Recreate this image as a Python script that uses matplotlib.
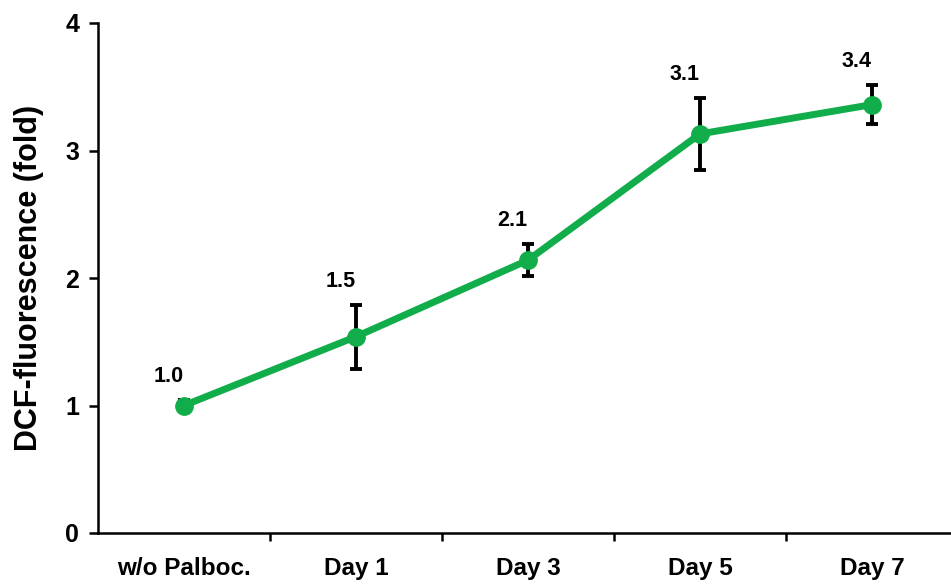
import matplotlib
matplotlib.use("Agg")
import matplotlib.pyplot as plt
from matplotlib.ticker import FixedLocator, NullFormatter

# Data
categories = ["w/o Palboc.", "Day 1", "Day 3", "Day 5", "Day 7"]
fold_change = [1.0, 1.54, 2.14, 3.13, 3.36]
fold_error = [0.04, 0.25, 0.125, 0.28, 0.155]
y_ticks = [0, 1, 2, 3, 4]

plt.rcParams["font.family"] = ["Liberation Sans", "DejaVu Sans"]
plt.rcParams["font.weight"] = "bold"

W, H = 951, 584
fig = plt.figure(figsize=(W / 100, H / 100), dpi=100)
ax = fig.add_axes([98 / W, 51 / H, 860 / W, 510 / H])

x = list(range(len(categories)))
green = "#12AD4B"

ax.errorbar(x, fold_change, yerr=fold_error, fmt="none", ecolor="black",
            elinewidth=2.8, capsize=4.5, capthick=2.8, zorder=2)
ax.plot(x, fold_change, color=green, linewidth=5, marker="o",
        markersize=12.5, markerfacecolor=green, markeredgecolor=green, zorder=3)

for xi, v, e in zip(x, fold_change, fold_error):
    ax.annotate(f"{v:.1f}", xy=(xi, v + e), xytext=(-11, 17),
                textcoords="offset points", ha="center", va="center",
                fontsize=15.5, fontweight="bold")

ax.set_xlim(-0.5, len(categories) - 0.5)
ax.set_ylim(0, 4)

ax.set_yticks(y_ticks)
ax.set_yticklabels([str(t) for t in y_ticks], fontsize=18, fontweight="bold")
ax.tick_params(axis="y", direction="out", length=6.5, width=1.8, pad=7)

ax.set_xticks(x)
ax.set_xticklabels(categories, fontsize=17.5, fontweight="bold")
ax.tick_params(axis="x", which="major", length=0, pad=17)
ax.xaxis.set_minor_locator(FixedLocator([i + 0.5 for i in range(len(categories) - 1)]))
ax.xaxis.set_minor_formatter(NullFormatter())
ax.tick_params(axis="x", which="minor", direction="out", length=5.5, width=1.8)

ax.set_ylabel("DCF-fluorescence (fold)", fontsize=22, fontweight="bold", labelpad=15)

for side in ("top", "right"):
    ax.spines[side].set_visible(False)
for side in ("left", "bottom"):
    ax.spines[side].set_linewidth(1.8)

fig.savefig("out.png", dpi=100)
